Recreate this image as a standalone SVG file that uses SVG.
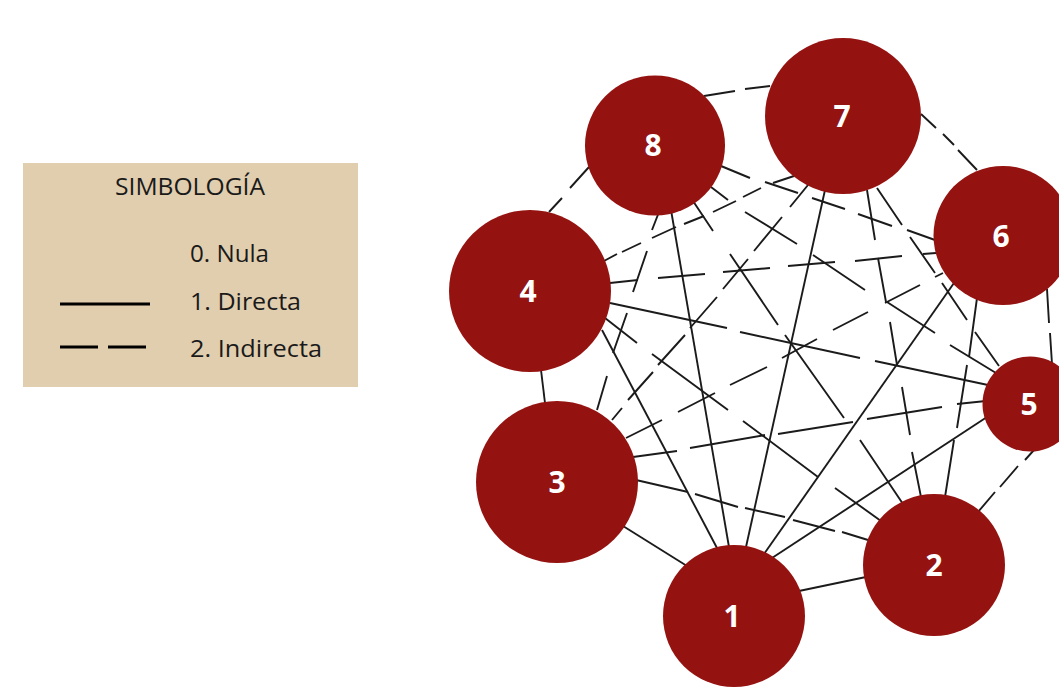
<svg xmlns="http://www.w3.org/2000/svg" width="1059" height="700" viewBox="0 0 1059 700">
  <style>
    .dir { fill: none; stroke: #1b1b1b; stroke-width: 1.9; }
    .ind { fill: none; stroke: #1b1b1b; stroke-width: 1.9; }
    .node circle { fill: #94120f; }
    .node text { fill: #ffffff; font-family: "Open Sans", "Liberation Sans", sans-serif; font-weight: 700; font-size: 30px; text-anchor: middle; }
    .legend-text { fill: #1a1a1a; font-family: "Open Sans", "Liberation Sans", sans-serif; font-size: 23px; }
    .legend-line { stroke: #000000; stroke-width: 3; }
  </style>
  <rect width="1059" height="700" fill="#ffffff"/>

  <!-- Legend -->
  <g id="legend">
    <rect x="23" y="163" width="335" height="224" fill="#e1ceaf"/>
    <text class="legend-text" x="190" y="195" text-anchor="middle" textLength="150" lengthAdjust="spacingAndGlyphs">SIMBOLOGÍA</text>
    <text class="legend-text" x="190" y="262" textLength="79" lengthAdjust="spacingAndGlyphs">0. Nula</text>
    <line class="legend-line" x1="60" y1="304" x2="150" y2="304"/>
    <text class="legend-text" x="190" y="310" textLength="111" lengthAdjust="spacingAndGlyphs">1. Directa</text>
    <line class="legend-line" x1="60" y1="347" x2="148" y2="347" stroke-dasharray="38 10"/>
    <text class="legend-text" x="190" y="357" textLength="132" lengthAdjust="spacingAndGlyphs">2. Indirecta</text>
  </g>

  <!-- Relations between the eight actors -->
  <g id="connectors">
    <!-- direct relations -->
    <path id="e1-2" class="dir" d="M799,591 L866,577"/>
    <path id="e1-3" class="dir" d="M623,526 L687,566"/>
    <path id="e1-4" class="dir" d="M602,330 L717,548"/>
    <path id="e1-5" class="dir" d="M772,558 L987,417"/>
    <path id="e1-6" class="dir" d="M764,554 L954,283"/>
    <path id="e1-7" class="dir" d="M746,547 L825,190"/>
    <path id="e1-8" class="dir" d="M671,210 L729,547"/>
    <path id="e3-4" class="dir" d="M541,370 L545,403"/>
    <!-- indirect relations -->
    <path id="e2-3" class="ind" d="M636,480 L688,492 M695,494 L738,507 M745,508 L785,517 M793,520 L835,531 M842,532 L868,540"/>
    <path id="e2-4" class="ind" d="M605,318 L637,343 M652,354 L728,410 M743,421 L818,477 M835,488 L881,521"/>
    <path id="e2-5" class="ind" d="M1034,450 L1025,460 M1018,466 L1000,487 M995,492 L978,512"/>
    <path id="e2-6" class="ind" d="M977,298 L969,357 M967,365 L957,428 M954,440 L945,497"/>
    <path id="e2-7" class="ind" d="M867,190 L875,240 M878,258 L886,302 M890,322 L897,365 M902,387 L910,435 M912,452 L921,497"/>
    <path id="e2-8" class="ind" d="M693,201 L713,231 M730,254 L778,325 M785,335 L844,418 M860,440 L903,504"/>
    <path id="e3-5" class="ind" d="M633,457 L677,451 M690,448 L765,435 M778,434 L853,422 M867,419 L942,407 M957,404 L986,401"/>
    <path id="e3-6" class="ind" d="M626,438 L662,420 M678,412 L715,393 M730,385 L767,367 M782,358 L817,339 M833,330 L868,312 M885,303 L920,285 M935,277 L943,273"/>
    <path id="e3-7" class="ind" d="M612,420 L622,408 M628,400 L653,372 M658,365 L685,335 M690,328 L717,297 M723,289 L748,259 M754,251 L782,217 M790,207 L808,185"/>
    <path id="e3-8" class="ind" d="M597,410 L607,376 M613,353 L627,313 M633,292 L647,251 M652,230 L659,212"/>
    <path id="e4-5" class="ind" d="M610,303 L727,328 M740,332 L860,358 M875,361 L988,385"/>
    <path id="e4-6" class="ind" d="M610,283 L638,280 M658,278 L705,274 M723,272 L770,268 M788,266 L835,262 M855,261 L902,256 M923,254 L936,253"/>
    <path id="e4-7" class="ind" d="M604,261 L617,254 M622,252 L641,243 M652,238 L676,227 M684,224 L704,216 M713,212 L736,201 M743,197 L761,188 M773,183 L794,176"/>
    <path id="e4-8" class="ind" d="M549,212 L562,198 M570,188 L589,167"/>
    <path id="e5-6" class="ind" d="M1047,289 L1049,323 M1050,333 L1052,364"/>
    <path id="e5-7" class="ind" d="M877,188 L902,225 M910,237 L935,273 M942,283 L967,320 M975,332 L999,366"/>
    <path id="e5-8" class="ind" d="M711,187 L728,200 M745,212 L797,244 M813,255 L865,290 M887,302 L935,333 M950,345 L996,373"/>
    <path id="e6-7" class="ind" d="M921,114 L936,128 M943,134 L954,145 M958,150 L977,170"/>
    <path id="e6-8" class="ind" d="M721,166 L750,178 M765,182 L798,193 M812,198 L845,209 M858,214 L892,226 M907,230 L935,240"/>
    <path id="e7-8" class="ind" d="M704,96 L735,91 M745,89 L770,86"/>
  </g>

  <!-- Actors -->
  <g id="node-1" class="node"><circle cx="734" cy="616" r="71"/><text x="732" y="627">1</text></g>
  <g id="node-2" class="node"><circle cx="934" cy="565" r="71"/><text x="934" y="576">2</text></g>
  <g id="node-3" class="node"><circle cx="557" cy="482" r="81"/><text x="557" y="493">3</text></g>
  <g id="node-4" class="node"><circle cx="530" cy="291" r="81"/><text x="528" y="302">4</text></g>
  <g id="node-5" class="node"><circle cx="1030" cy="404" r="47.5"/><text x="1029" y="415">5</text></g>
  <g id="node-6" class="node"><circle cx="1003" cy="235.5" r="69.5"/><text x="1001" y="247">6</text></g>
  <g id="node-7" class="node"><circle cx="843" cy="116" r="78"/><text x="842" y="127">7</text></g>
  <g id="node-8" class="node"><circle cx="655" cy="145.5" r="70"/><text x="653" y="156">8</text></g>
</svg>
